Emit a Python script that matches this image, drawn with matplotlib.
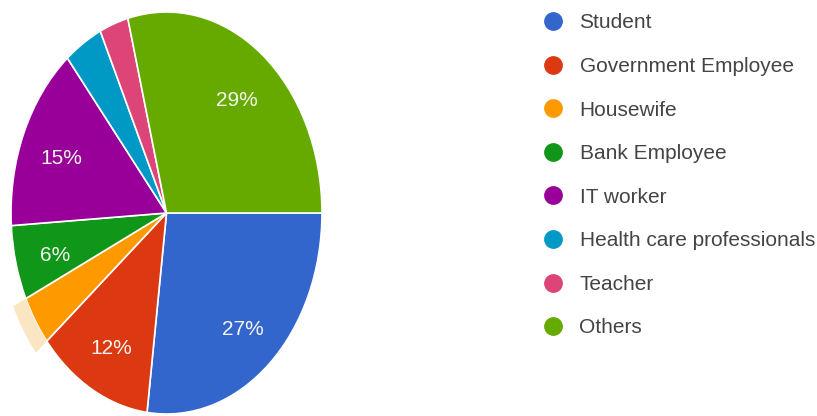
import matplotlib.pyplot as plt
from matplotlib.lines import Line2D
from matplotlib.patches import Wedge

categories = ['Student', 'Government Employee', 'Housewife', 'Bank Employee',
              'IT worker', 'Health care professionals', 'Teacher', 'Others']
shares = [27, 12, 4, 6, 15, 4, 3, 29]
colors = ['#3366cc', '#dc3912', '#ff9900', '#109618',
          '#990099', '#0099c6', '#dd4477', '#66aa00']

plt.rcParams['font.family'] = ['Liberation Sans', 'DejaVu Sans']

fig = plt.figure(figsize=(8.17, 4.16), dpi=100)
# pie is drawn stretched (taller than wide), like the source image
ax = fig.add_axes([11 / 817, 2 / 416, 311 / 817, 402 / 416])

def fmt(p):
    return f'{p:.0f}%' if p >= 5 else ''

wedges, texts, autotexts = ax.pie(
    shares, colors=colors, startangle=0, counterclock=False,
    autopct=fmt, pctdistance=0.74,
    wedgeprops=dict(edgecolor='white', linewidth=1.2),
    textprops=dict(color='#f6f6ee', fontsize=15))
ax.set_xlim(-1, 1)
ax.set_ylim(-1, 1)
ax.set_aspect('auto')
for t in autotexts:
    x, y = t.get_position()
    t.set_position((x, y - 0.025))

# pale hover band outside the Housewife slice
hw = wedges[2]
ax.add_patch(Wedge((0, 0), 1.09, hw.theta1, hw.theta2, width=0.09,
                   facecolor='#fbe6c4', edgecolor='none'))

handles = [Line2D([], [], marker='o', linestyle='', markersize=12.5,
                  markerfacecolor=c, markeredgecolor=c) for c in colors]
fig.legend(handles, categories, loc='upper left',
           bbox_to_anchor=(532 / 817, 1 - 3 / 416), frameon=False,
           fontsize=15, labelcolor='#444444', handletextpad=0.78,
           labelspacing=1.18, handlelength=1.0, borderpad=0)

fig.savefig('out.png', dpi=100)
